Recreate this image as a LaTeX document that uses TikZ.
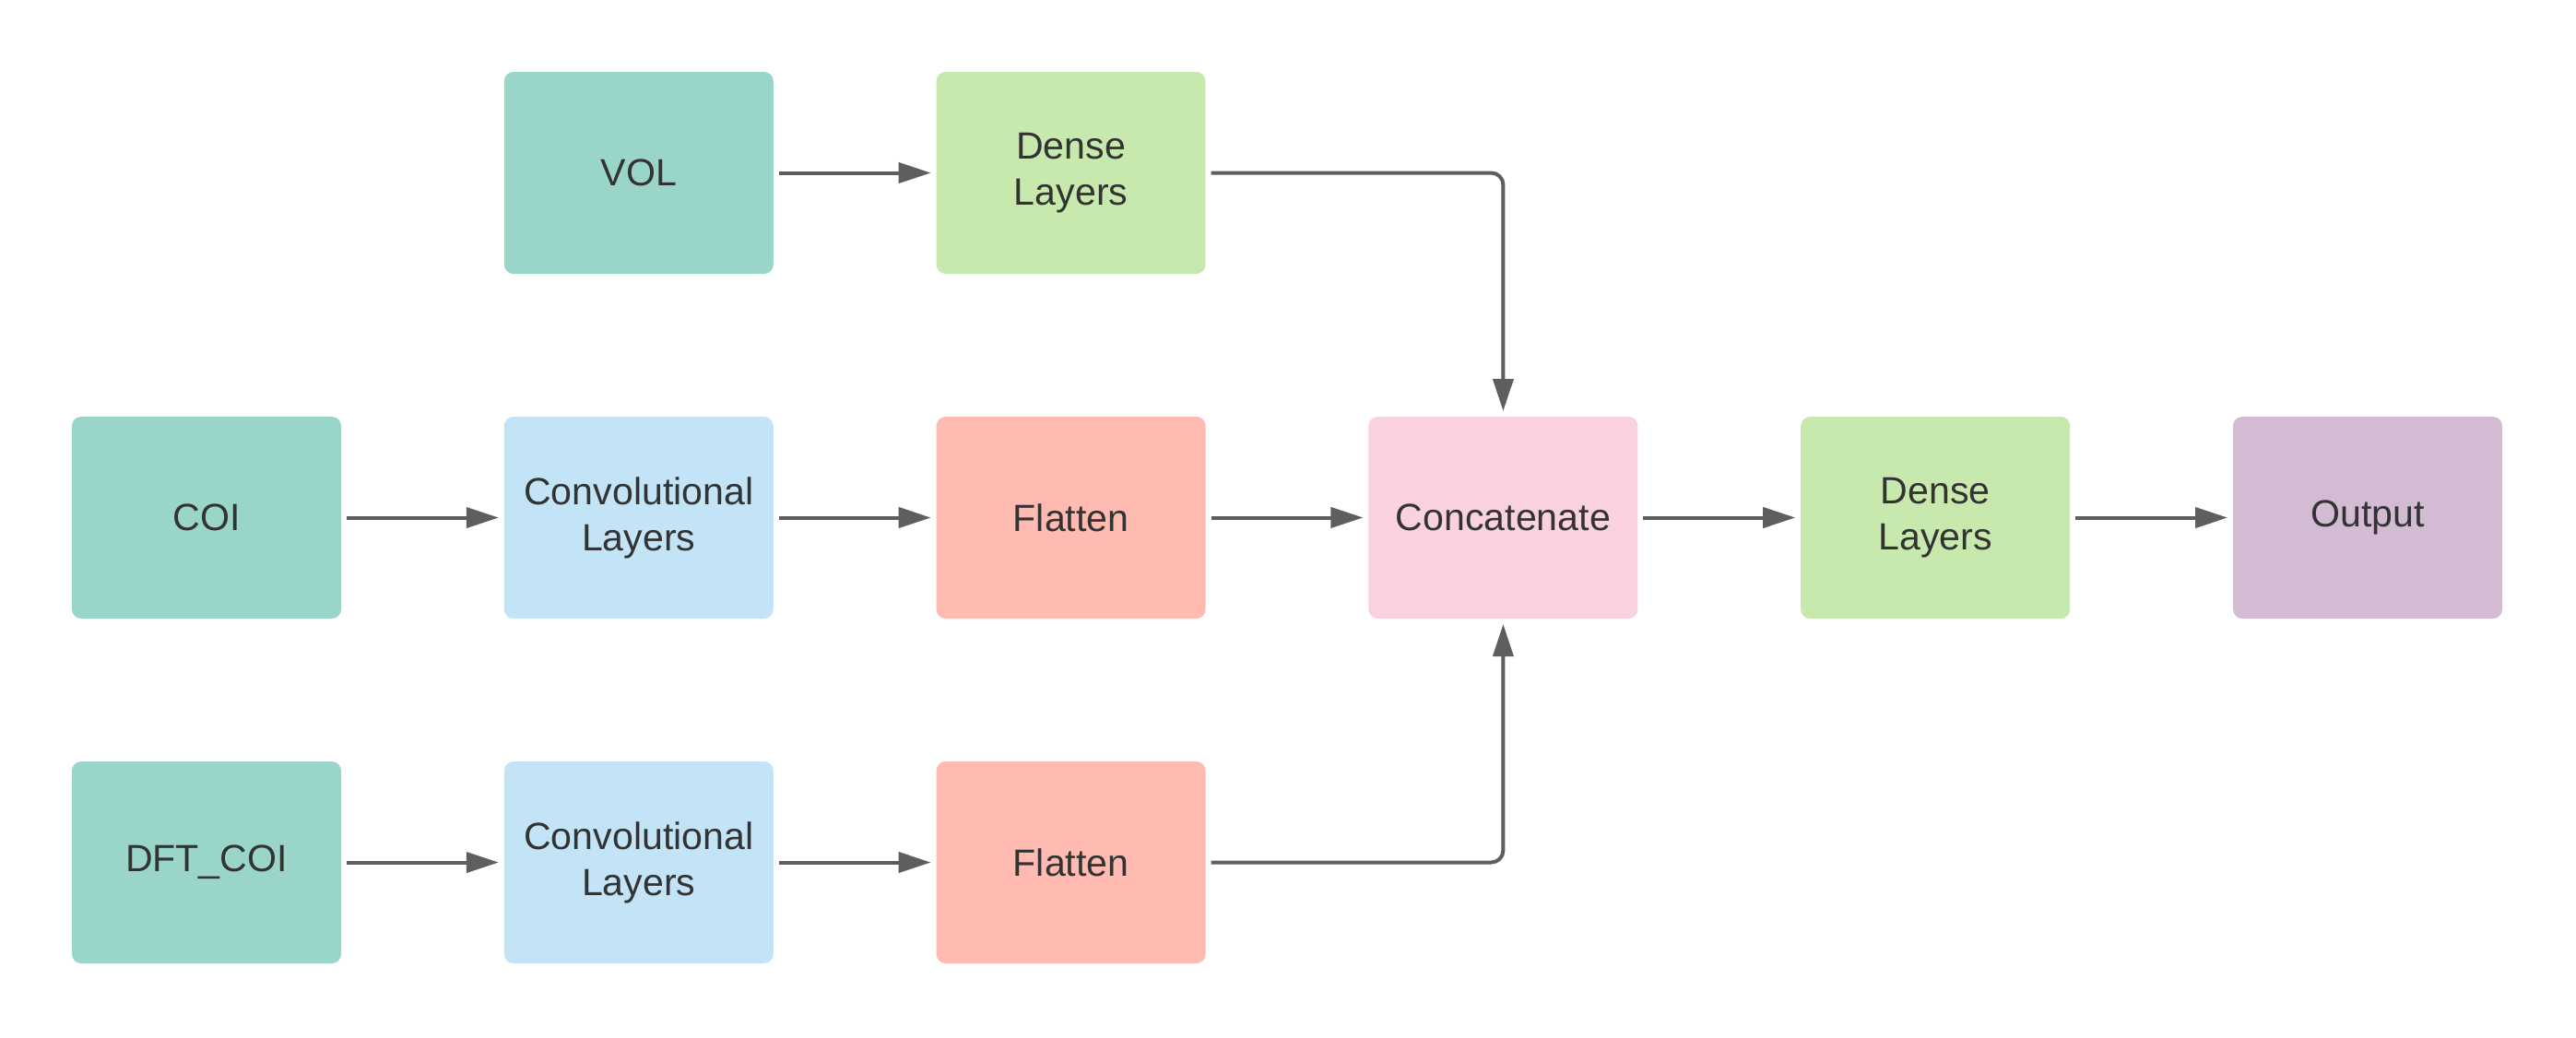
\documentclass[tikz,border=0pt]{standalone}
\usepackage{fontspec}
\setmainfont{Liberation Sans}
\usetikzlibrary{positioning,arrows.meta}
\definecolor{inputc}{HTML}{9AD5CA}
\definecolor{densec}{HTML}{C7E9AD}
\definecolor{convc}{HTML}{C2E4F6}
\definecolor{flatc}{HTML}{FFBBB1}
\definecolor{concatc}{HTML}{F9D2DE}
\definecolor{outc}{HTML}{D3BBD3}
\definecolor{linec}{HTML}{5E5E5E}
\definecolor{textc}{HTML}{333333}
\begin{document}
\begin{tikzpicture}[
    box/.style={rounded corners=0.1cm, minimum width=2.92cm, minimum height=2.19cm,
      inner sep=0pt, outer sep=0pt, align=center, text=textc,
      font=\fontsize{11.7}{14.2}\selectfont},
    link/.style={draw=linec, line width=0.04cm, -{Triangle[length=0.35cm,width=0.22cm]},
      shorten <=0.06cm, shorten >=0.06cm, rounded corners=0.13cm},
    node distance=1.55cm and 1.768cm]
  \useasboundingbox (0,0) rectangle (27.94,-11.25);
  % middle row
  \node[box, fill=inputc] (coi) at (2.24,-5.615) {COI};
  \node[box, fill=convc, right=of coi] (conv1) {Convolutional\\Layers};
  \node[box, fill=flatc, right=of conv1] (flat1) {Flatten};
  \node[box, fill=concatc, right=of flat1] (concat) {Concatenate};
  \node[box, fill=densec, right=of concat] (dense2) {Dense\\Layers};
  \node[box, fill=outc, right=of dense2] (out) {Output};
  % top row
  \node[box, fill=inputc, above=of conv1] (vol) {VOL};
  \node[box, fill=densec, above=of flat1] (dense1) {Dense\\Layers};
  % bottom row
  \node[box, fill=inputc, below=of coi] (dft) {DFT\_COI};
  \node[box, fill=convc, below=of conv1] (conv2) {Convolutional\\Layers};
  \node[box, fill=flatc, below=of flat1] (flat2) {Flatten};
  \begin{scope}[link]
    \draw (vol) to (dense1);
    \draw (coi) to (conv1);
    \draw (conv1) to (flat1);
    \draw (flat1) to (concat);
    \draw (concat) to (dense2);
    \draw (dense2) to (out);
    \draw (dft) to (conv2);
    \draw (conv2) to (flat2);
    \draw (dense1) -| (concat);
    \draw (flat2) -| (concat);
  \end{scope}
\end{tikzpicture}
\end{document}
